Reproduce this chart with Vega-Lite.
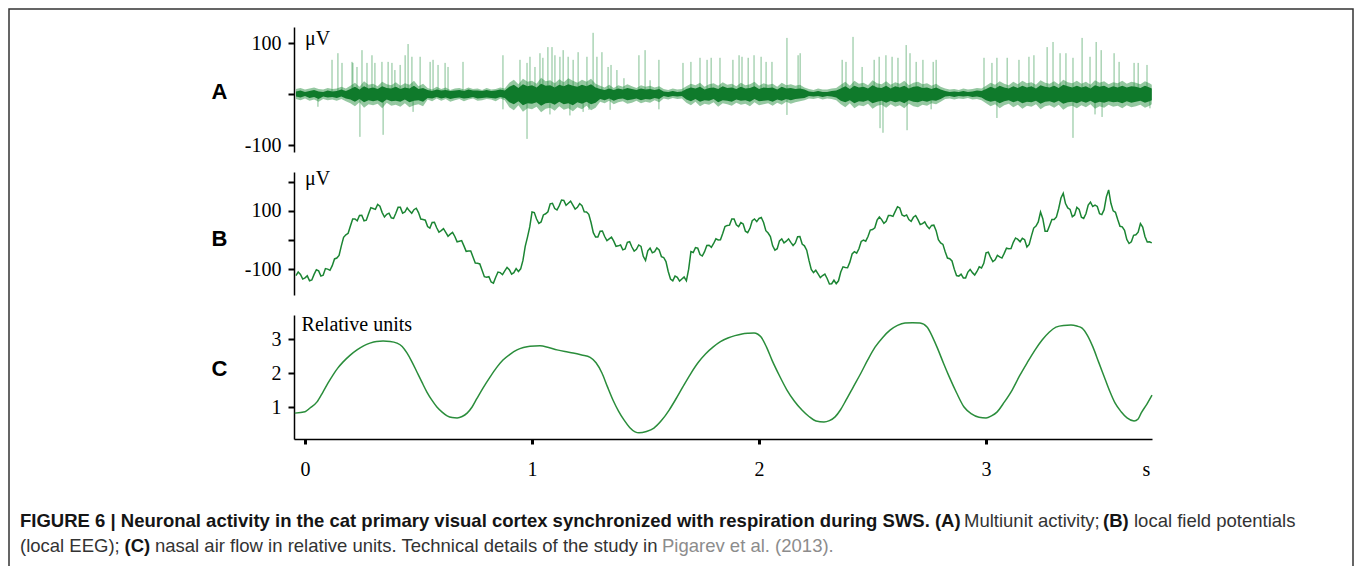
{
  "$schema": "https://vega.github.io/schema/vega-lite/v6.json",
  "width": 1344,
  "height": 557,
  "padding": {"left": 9, "top": 9, "right": 2, "bottom": 0},
  "autosize": {"type": "none"},
  "background": "white",
  "config": {
    "view": {"stroke": "#333333", "strokeWidth": 1.5, "strokeDash": [1901, 1344, 557]},
    "axis": {"domainColor": "#000000", "tickColor": "#000000", "labelColor": "#000000", "titleColor": "#000000", "grid": false, "labelFont": "Liberation Serif", "labelFontSize": 20, "domainWidth": 1.5, "labelFlush": false}
  },
  "datasets": {
    "trace": [
      {"t":-0.04,"lo":-5,"hi":5,"olo":-10,"ohi":10},{"t":-0.02,"lo":-7,"hi":7,"olo":-12,"ohi":12},{"t":0,"lo":-4,"hi":4,"olo":-9,"ohi":9},{"t":0.02,"lo":-8,"hi":6,"olo":-13,"ohi":11},{"t":0.04,"lo":-6,"hi":8,"olo":-11,"ohi":13},{"t":0.06,"lo":-10,"hi":5,"olo":-15,"ohi":10},{"t":0.08,"lo":-5,"hi":4,"olo":-10,"ohi":9},{"t":0.10,"lo":-7,"hi":7,"olo":-12,"ohi":12},{"t":0.12,"lo":-6,"hi":5,"olo":-11,"ohi":10},{"t":0.14,"lo":-8,"hi":6,"olo":-13,"ohi":11},{"t":0.16,"lo":-5,"hi":9,"olo":-10,"ohi":14},{"t":0.18,"lo":-9,"hi":6,"olo":-14,"ohi":11},
      {"t":0.20,"lo":-11,"hi":10,"olo":-18,"ohi":16},{"t":0.22,"lo":-15,"hi":14,"olo":-24,"ohi":22},{"t":0.24,"lo":-10,"hi":9,"olo":-16,"ohi":14},{"t":0.26,"lo":-16,"hi":15,"olo":-27,"ohi":25},{"t":0.28,"lo":-12,"hi":11,"olo":-20,"ohi":18},{"t":0.30,"lo":-14,"hi":13,"olo":-22,"ohi":20},{"t":0.32,"lo":-12,"hi":10,"olo":-19,"ohi":15},{"t":0.34,"lo":-17,"hi":15,"olo":-28,"ohi":24},{"t":0.36,"lo":-11,"hi":12,"olo":-17,"ohi":19},{"t":0.38,"lo":-14,"hi":11,"olo":-23,"ohi":17},{"t":0.40,"lo":-13,"hi":14,"olo":-21,"ohi":23},{"t":0.42,"lo":-15,"hi":10,"olo":-25,"ohi":16},{"t":0.44,"lo":-11,"hi":13,"olo":-18,"ohi":21},{"t":0.46,"lo":-16,"hi":11,"olo":-26,"ohi":18},{"t":0.48,"lo":-13,"hi":16,"olo":-22,"ohi":26},{"t":0.50,"lo":-12,"hi":10,"olo":-20,"ohi":15},{"t":0.52,"lo":-15,"hi":12,"olo":-24,"ohi":20},
      {"t":0.54,"lo":-8,"hi":8,"olo":-11,"ohi":12},{"t":0.56,"lo":-9,"hi":6,"olo":-14,"ohi":9},{"t":0.58,"lo":-6,"hi":9,"olo":-9,"ohi":14},{"t":0.60,"lo":-9,"hi":7,"olo":-13,"ohi":10},{"t":0.62,"lo":-7,"hi":8,"olo":-10,"ohi":13},{"t":0.64,"lo":-10,"hi":6,"olo":-15,"ohi":8},{"t":0.66,"lo":-8,"hi":7,"olo":-12,"ohi":11},{"t":0.68,"lo":-7,"hi":8,"olo":-10,"ohi":12},{"t":0.70,"lo":-9,"hi":6,"olo":-14,"ohi":9},{"t":0.72,"lo":-8,"hi":9,"olo":-11,"ohi":13},{"t":0.74,"lo":-6,"hi":7,"olo":-9,"ohi":10},{"t":0.76,"lo":-9,"hi":7,"olo":-13,"ohi":11},{"t":0.78,"lo":-8,"hi":6,"olo":-12,"ohi":8},{"t":0.80,"lo":-7,"hi":8,"olo":-10,"ohi":12},{"t":0.82,"lo":-8,"hi":6,"olo":-11,"ohi":9},{"t":0.84,"lo":-9,"hi":7,"olo":-14,"ohi":10},{"t":0.86,"lo":-6,"hi":9,"olo":-9,"ohi":13},{"t":0.88,"lo":-8,"hi":7,"olo":-12,"ohi":11},
      {"t":0.90,"lo":-16,"hi":14,"olo":-26,"ohi":22},{"t":0.92,"lo":-20,"hi":18,"olo":-32,"ohi":28},{"t":0.94,"lo":-14,"hi":12,"olo":-22,"ohi":19},{"t":0.96,"lo":-22,"hi":19,"olo":-35,"ohi":30},{"t":0.98,"lo":-18,"hi":15,"olo":-28,"ohi":24},{"t":1.00,"lo":-19,"hi":17,"olo":-30,"ohi":26},{"t":1.02,"lo":-16,"hi":13,"olo":-25,"ohi":20},{"t":1.04,"lo":-23,"hi":20,"olo":-36,"ohi":32},{"t":1.06,"lo":-18,"hi":16,"olo":-29,"ohi":25},{"t":1.08,"lo":-17,"hi":17,"olo":-27,"ohi":27},{"t":1.10,"lo":-21,"hi":13,"olo":-33,"ohi":21},{"t":1.12,"lo":-15,"hi":18,"olo":-24,"ohi":29},{"t":1.14,"lo":-20,"hi":15,"olo":-31,"ohi":23},{"t":1.16,"lo":-18,"hi":19,"olo":-28,"ohi":31},{"t":1.18,"lo":-22,"hi":16,"olo":-34,"ohi":26},{"t":1.20,"lo":-16,"hi":14,"olo":-26,"ohi":22},{"t":1.22,"lo":-19,"hi":18,"olo":-30,"ohi":28},{"t":1.24,"lo":-15,"hi":15,"olo":-23,"ohi":24},{"t":1.26,"lo":-20,"hi":19,"olo":-32,"ohi":30},{"t":1.28,"lo":-17,"hi":13,"olo":-27,"ohi":20},
      {"t":1.30,"lo":-10,"hi":10,"olo":-15,"ohi":16},{"t":1.32,"lo":-12,"hi":8,"olo":-18,"ohi":13},{"t":1.34,"lo":-9,"hi":11,"olo":-13,"ohi":18},{"t":1.36,"lo":-13,"hi":8,"olo":-20,"ohi":12},{"t":1.38,"lo":-10,"hi":11,"olo":-16,"ohi":17},{"t":1.40,"lo":-9,"hi":9,"olo":-14,"ohi":14},{"t":1.42,"lo":-12,"hi":12,"olo":-19,"ohi":19},{"t":1.44,"lo":-11,"hi":10,"olo":-17,"ohi":15},{"t":1.46,"lo":-9,"hi":8,"olo":-13,"ohi":12},{"t":1.48,"lo":-12,"hi":11,"olo":-18,"ohi":17},{"t":1.50,"lo":-10,"hi":9,"olo":-15,"ohi":14},{"t":1.52,"lo":-11,"hi":10,"olo":-17,"ohi":16},{"t":1.54,"lo":-8,"hi":8,"olo":-12,"ohi":13},{"t":1.56,"lo":-10,"hi":10,"olo":-16,"ohi":15},
      {"t":1.58,"lo":-4,"hi":5,"olo":-9,"ohi":10},{"t":1.60,"lo":-6,"hi":4,"olo":-11,"ohi":8},{"t":1.62,"lo":-4,"hi":6,"olo":-8,"ohi":11},{"t":1.64,"lo":-5,"hi":4,"olo":-10,"ohi":9},{"t":1.66,"lo":-4,"hi":5,"olo":-9,"ohi":10},
      {"t":1.68,"lo":-11,"hi":10,"olo":-17,"ohi":15},{"t":1.70,"lo":-14,"hi":13,"olo":-22,"ohi":20},{"t":1.72,"lo":-10,"hi":11,"olo":-15,"ohi":17},{"t":1.74,"lo":-15,"hi":14,"olo":-24,"ohi":22},{"t":1.76,"lo":-12,"hi":9,"olo":-19,"ohi":14},{"t":1.78,"lo":-13,"hi":12,"olo":-21,"ohi":19},{"t":1.80,"lo":-10,"hi":13,"olo":-16,"ohi":21},{"t":1.82,"lo":-16,"hi":10,"olo":-25,"ohi":16},{"t":1.84,"lo":-12,"hi":15,"olo":-18,"ohi":23},{"t":1.86,"lo":-13,"hi":12,"olo":-20,"ohi":18},{"t":1.88,"lo":-15,"hi":13,"olo":-23,"ohi":20},{"t":1.90,"lo":-11,"hi":10,"olo":-17,"ohi":15},{"t":1.92,"lo":-13,"hi":14,"olo":-21,"ohi":22},{"t":1.94,"lo":-12,"hi":11,"olo":-19,"ohi":17},{"t":1.96,"lo":-15,"hi":12,"olo":-24,"ohi":19},{"t":1.98,"lo":-10,"hi":15,"olo":-16,"ohi":24},{"t":2.00,"lo":-14,"hi":10,"olo":-22,"ohi":16},{"t":2.02,"lo":-13,"hi":13,"olo":-20,"ohi":21},{"t":2.04,"lo":-12,"hi":12,"olo":-18,"ohi":18},{"t":2.06,"lo":-15,"hi":13,"olo":-23,"ohi":20},{"t":2.08,"lo":-11,"hi":9,"olo":-17,"ohi":14},{"t":2.10,"lo":-13,"hi":14,"olo":-21,"ohi":22},{"t":2.12,"lo":-10,"hi":11,"olo":-15,"ohi":17},{"t":2.14,"lo":-12,"hi":12,"olo":-19,"ohi":19},{"t":2.16,"lo":-10,"hi":10,"olo":-16,"ohi":16},{"t":2.18,"lo":-9,"hi":11,"olo":-14,"ohi":18},{"t":2.20,"lo":-8,"hi":9,"olo":-12,"ohi":13},
      {"t":2.22,"lo":-4,"hi":5,"olo":-9,"ohi":10},{"t":2.24,"lo":-5,"hi":4,"olo":-10,"ohi":8},{"t":2.26,"lo":-4,"hi":6,"olo":-8,"ohi":11},{"t":2.28,"lo":-6,"hi":4,"olo":-11,"ohi":9},{"t":2.30,"lo":-4,"hi":4,"olo":-9,"ohi":9},{"t":2.32,"lo":-5,"hi":6,"olo":-10,"ohi":11},{"t":2.34,"lo":-7,"hi":7,"olo":-12,"ohi":12},
      {"t":2.36,"lo":-13,"hi":11,"olo":-20,"ohi":18},{"t":2.38,"lo":-16,"hi":15,"olo":-26,"ohi":24},{"t":2.40,"lo":-12,"hi":10,"olo":-18,"ohi":16},{"t":2.42,"lo":-18,"hi":16,"olo":-28,"ohi":26},{"t":2.44,"lo":-14,"hi":13,"olo":-22,"ohi":20},{"t":2.46,"lo":-15,"hi":14,"olo":-24,"ohi":22},{"t":2.48,"lo":-12,"hi":11,"olo":-19,"ohi":17},{"t":2.50,"lo":-18,"hi":17,"olo":-29,"ohi":27},{"t":2.52,"lo":-15,"hi":13,"olo":-23,"ohi":21},{"t":2.54,"lo":-13,"hi":12,"olo":-21,"ohi":19},{"t":2.56,"lo":-17,"hi":16,"olo":-27,"ohi":25},{"t":2.58,"lo":-13,"hi":11,"olo":-20,"ohi":18},{"t":2.60,"lo":-16,"hi":15,"olo":-25,"ohi":23},{"t":2.62,"lo":-14,"hi":13,"olo":-22,"ohi":20},{"t":2.64,"lo":-18,"hi":16,"olo":-28,"ohi":26},{"t":2.66,"lo":-12,"hi":11,"olo":-19,"ohi":17},{"t":2.68,"lo":-15,"hi":14,"olo":-24,"ohi":22},{"t":2.70,"lo":-16,"hi":15,"olo":-26,"ohi":24},{"t":2.72,"lo":-13,"hi":12,"olo":-21,"ohi":19},{"t":2.74,"lo":-15,"hi":13,"olo":-23,"ohi":21},{"t":2.76,"lo":-12,"hi":10,"olo":-18,"ohi":16},{"t":2.78,"lo":-13,"hi":13,"olo":-20,"ohi":20},{"t":2.80,"lo":-10,"hi":9,"olo":-15,"ohi":14},
      {"t":2.82,"lo":-5,"hi":6,"olo":-10,"ohi":11},{"t":2.84,"lo":-4,"hi":4,"olo":-9,"ohi":9},{"t":2.86,"lo":-6,"hi":5,"olo":-11,"ohi":10},{"t":2.88,"lo":-4,"hi":4,"olo":-9,"ohi":8},{"t":2.90,"lo":-5,"hi":6,"olo":-10,"ohi":11},{"t":2.92,"lo":-4,"hi":4,"olo":-8,"ohi":9},{"t":2.94,"lo":-6,"hi":5,"olo":-11,"ohi":10},{"t":2.96,"lo":-5,"hi":7,"olo":-10,"ohi":12},{"t":2.98,"lo":-7,"hi":6,"olo":-12,"ohi":11},
      {"t":3.00,"lo":-12,"hi":10,"olo":-18,"ohi":16},{"t":3.02,"lo":-15,"hi":14,"olo":-24,"ohi":22},{"t":3.04,"lo":-13,"hi":11,"olo":-20,"ohi":18},{"t":3.06,"lo":-18,"hi":16,"olo":-28,"ohi":25},{"t":3.08,"lo":-14,"hi":13,"olo":-22,"ohi":20},{"t":3.10,"lo":-12,"hi":11,"olo":-19,"ohi":17},{"t":3.12,"lo":-16,"hi":15,"olo":-26,"ohi":24},{"t":3.14,"lo":-13,"hi":12,"olo":-21,"ohi":19},{"t":3.16,"lo":-18,"hi":16,"olo":-29,"ohi":26},{"t":3.18,"lo":-15,"hi":13,"olo":-23,"ohi":21},{"t":3.20,"lo":-16,"hi":15,"olo":-25,"ohi":23},{"t":3.22,"lo":-13,"hi":11,"olo":-20,"ohi":18},{"t":3.24,"lo":-19,"hi":17,"olo":-30,"ohi":27},{"t":3.26,"lo":-15,"hi":14,"olo":-24,"ohi":22},{"t":3.28,"lo":-14,"hi":13,"olo":-22,"ohi":20},{"t":3.30,"lo":-17,"hi":16,"olo":-27,"ohi":25},{"t":3.32,"lo":-13,"hi":12,"olo":-21,"ohi":19},{"t":3.34,"lo":-19,"hi":18,"olo":-31,"ohi":28},{"t":3.36,"lo":-16,"hi":15,"olo":-25,"ohi":23},{"t":3.38,"lo":-15,"hi":13,"olo":-23,"ohi":21},{"t":3.40,"lo":-18,"hi":16,"olo":-28,"ohi":26},{"t":3.42,"lo":-14,"hi":13,"olo":-22,"ohi":20},{"t":3.44,"lo":-17,"hi":15,"olo":-26,"ohi":24},{"t":3.46,"lo":-13,"hi":11,"olo":-20,"ohi":18},{"t":3.48,"lo":-18,"hi":17,"olo":-29,"ohi":27},{"t":3.50,"lo":-15,"hi":14,"olo":-24,"ohi":22},{"t":3.52,"lo":-17,"hi":16,"olo":-27,"ohi":25},{"t":3.54,"lo":-14,"hi":12,"olo":-21,"ohi":19},{"t":3.56,"lo":-16,"hi":15,"olo":-25,"ohi":23},{"t":3.58,"lo":-15,"hi":13,"olo":-23,"ohi":21},{"t":3.60,"lo":-18,"hi":16,"olo":-28,"ohi":26},{"t":3.62,"lo":-14,"hi":13,"olo":-22,"ohi":20},{"t":3.64,"lo":-17,"hi":15,"olo":-26,"ohi":24},{"t":3.66,"lo":-15,"hi":14,"olo":-24,"ohi":22},{"t":3.68,"lo":-13,"hi":12,"olo":-21,"ohi":19},{"t":3.70,"lo":-17,"hi":16,"olo":-27,"ohi":25},{"t":3.72,"lo":-14,"hi":13,"olo":-23,"ohi":21},{"t":3.73,"lo":-12,"hi":11,"olo":-20,"ohi":18}
    ],
    "lfp": [
      {"t":-0.04,"b":-122},{"t":-0.03,"b":-110},{"t":-0.02,"b":-118},{"t":-0.01,"b":-134},{"t":0,"b":-130},{"t":0.01,"b":-123},{"t":0.02,"b":-140},{"t":0.03,"b":-137},{"t":0.04,"b":-118},{"t":0.05,"b":-102},{"t":0.06,"b":-106},{"t":0.07,"b":-124},{"t":0.08,"b":-121},{"t":0.09,"b":-98},{"t":0.10,"b":-100},{"t":0.11,"b":-104},{"t":0.12,"b":-88},{"t":0.13,"b":-65},{"t":0.14,"b":-62},{"t":0.15,"b":-53},{"t":0.16,"b":-20},{"t":0.17,"b":9},{"t":0.18,"b":18},{"t":0.19,"b":23},
      {"t":0.20,"b":48},{"t":0.21,"b":72},{"t":0.22,"b":72},{"t":0.23,"b":66},{"t":0.24,"b":84},{"t":0.25,"b":85},{"t":0.26,"b":66},{"t":0.27,"b":68},{"t":0.28,"b":90},{"t":0.29,"b":111},{"t":0.30,"b":108},{"t":0.31,"b":105},{"t":0.32,"b":122},{"t":0.33,"b":116},{"t":0.34,"b":94},{"t":0.35,"b":79},{"t":0.36,"b":88},{"t":0.37,"b":92},{"t":0.38,"b":76},{"t":0.39,"b":74},
      {"t":0.40,"b":92},{"t":0.41,"b":112},{"t":0.42,"b":112},{"t":0.43,"b":92},{"t":0.44,"b":96},{"t":0.45,"b":110},{"t":0.46,"b":100},{"t":0.47,"b":92},{"t":0.48,"b":104},{"t":0.49,"b":109},{"t":0.50,"b":94},{"t":0.51,"b":72},{"t":0.52,"b":70},{"t":0.53,"b":68},{"t":0.54,"b":46},{"t":0.55,"b":41},{"t":0.56,"b":60},{"t":0.57,"b":61},{"t":0.58,"b":42},{"t":0.59,"b":27},
      {"t":0.60,"b":32},{"t":0.61,"b":39},{"t":0.62,"b":26},{"t":0.63,"b":13},{"t":0.64,"b":20},{"t":0.65,"b":26},{"t":0.66,"b":12},{"t":0.67,"b":-6},{"t":0.68,"b":-4},{"t":0.69,"b":-2},{"t":0.70,"b":-20},{"t":0.71,"b":-39},{"t":0.72,"b":-38},{"t":0.73,"b":-38},{"t":0.74,"b":-58},{"t":0.75,"b":-79},{"t":0.76,"b":-80},{"t":0.77,"b":-82},{"t":0.78,"b":-104},{"t":0.79,"b":-126},
      {"t":0.80,"b":-128},{"t":0.81,"b":-126},{"t":0.82,"b":-144},{"t":0.83,"b":-148},{"t":0.84,"b":-128},{"t":0.85,"b":-110},{"t":0.86,"b":-112},{"t":0.87,"b":-119},{"t":0.88,"b":-106},{"t":0.89,"b":-94},{"t":0.90,"b":-102},{"t":0.91,"b":-117},{"t":0.92,"b":-112},{"t":0.93,"b":-98},{"t":0.94,"b":-108},{"t":0.95,"b":-99},{"t":0.96,"b":-70},{"t":0.97,"b":-22},{"t":0.98,"b":10},{"t":0.99,"b":45},
      {"t":1.00,"b":96},{"t":1.01,"b":94},{"t":1.02,"b":72},{"t":1.03,"b":57},{"t":1.04,"b":62},{"t":1.05,"b":86},{"t":1.06,"b":90},{"t":1.07,"b":97},{"t":1.08,"b":124},{"t":1.09,"b":126},{"t":1.10,"b":108},{"t":1.11,"b":103},{"t":1.12,"b":118},{"t":1.13,"b":137},{"t":1.14,"b":136},{"t":1.15,"b":119},{"t":1.16,"b":126},{"t":1.17,"b":133},{"t":1.18,"b":120},{"t":1.19,"b":106},
      {"t":1.20,"b":112},{"t":1.21,"b":125},{"t":1.22,"b":118},{"t":1.23,"b":97},{"t":1.24,"b":96},{"t":1.25,"b":88},{"t":1.26,"b":60},{"t":1.27,"b":25},{"t":1.28,"b":10},{"t":1.29,"b":10},{"t":1.30,"b":30},{"t":1.31,"b":31},{"t":1.32,"b":12},{"t":1.33,"b":-2},{"t":1.34,"b":4},{"t":1.35,"b":10},{"t":1.36,"b":-4},{"t":1.37,"b":-22},{"t":1.38,"b":-20},{"t":1.39,"b":-17},
      {"t":1.40,"b":-34},{"t":1.41,"b":-31},{"t":1.42,"b":-8},{"t":1.43,"b":-6},{"t":1.44,"b":-24},{"t":1.45,"b":-38},{"t":1.46,"b":-32},{"t":1.47,"b":-17},{"t":1.48,"b":-22},{"t":1.49,"b":-56},{"t":1.50,"b":-70},{"t":1.51,"b":-37},{"t":1.52,"b":-28},{"t":1.53,"b":-44},{"t":1.54,"b":-40},{"t":1.55,"b":-27},{"t":1.56,"b":-34},{"t":1.57,"b":-57},{"t":1.58,"b":-60},{"t":1.59,"b":-74},
      {"t":1.60,"b":-108},{"t":1.61,"b":-134},{"t":1.62,"b":-140},{"t":1.63,"b":-124},{"t":1.64,"b":-128},{"t":1.65,"b":-141},{"t":1.66,"b":-134},{"t":1.67,"b":-127},{"t":1.68,"b":-140},{"t":1.69,"b":-100},{"t":1.70,"b":-40},{"t":1.71,"b":-43},{"t":1.72,"b":-26},{"t":1.73,"b":-28},{"t":1.74,"b":-50},{"t":1.75,"b":-55},{"t":1.76,"b":-40},{"t":1.77,"b":-19},{"t":1.78,"b":-18},{"t":1.79,"b":-25},
      {"t":1.80,"b":-12},{"t":1.81,"b":4},{"t":1.82,"b":0},{"t":1.83,"b":1},{"t":1.84,"b":22},{"t":1.85,"b":46},{"t":1.86,"b":50},{"t":1.87,"b":51},{"t":1.88,"b":72},{"t":1.89,"b":72},{"t":1.90,"b":52},{"t":1.91,"b":46},{"t":1.92,"b":60},{"t":1.93,"b":55},{"t":1.94,"b":30},{"t":1.95,"b":25},{"t":1.96,"b":40},{"t":1.97,"b":66},{"t":1.98,"b":72},{"t":1.99,"b":63},
      {"t":2.00,"b":74},{"t":2.01,"b":77},{"t":2.02,"b":60},{"t":2.03,"b":32},{"t":2.04,"b":24},{"t":2.05,"b":12},{"t":2.06,"b":-20},{"t":2.07,"b":-35},{"t":2.08,"b":-30},{"t":2.09,"b":-3},{"t":2.10,"b":4},{"t":2.11,"b":-10},{"t":2.12,"b":-4},{"t":2.13,"b":4},{"t":2.14,"b":-8},{"t":2.15,"b":-19},{"t":2.16,"b":-10},{"t":2.17,"b":11},{"t":2.18,"b":12},{"t":2.19,"b":-14},
      {"t":2.20,"b":-20},{"t":2.21,"b":-35},{"t":2.22,"b":-70},{"t":2.23,"b":-101},{"t":2.24,"b":-112},{"t":2.25,"b":-104},{"t":2.26,"b":-116},{"t":2.27,"b":-129},{"t":2.28,"b":-122},{"t":2.29,"b":-117},{"t":2.30,"b":-132},{"t":2.31,"b":-151},{"t":2.32,"b":-150},{"t":2.33,"b":-138},{"t":2.34,"b":-150},{"t":2.35,"b":-140},{"t":2.36,"b":-110},{"t":2.37,"b":-92},{"t":2.38,"b":-94},{"t":2.39,"b":-95},
      {"t":2.40,"b":-76},{"t":2.41,"b":-48},{"t":2.42,"b":-40},{"t":2.43,"b":-45},{"t":2.44,"b":-30},{"t":2.45,"b":-5},{"t":2.46,"b":0},{"t":2.47,"b":-4},{"t":2.48,"b":12},{"t":2.49,"b":34},{"t":2.50,"b":36},{"t":2.51,"b":42},{"t":2.52,"b":68},{"t":2.53,"b":79},{"t":2.54,"b":70},{"t":2.55,"b":57},{"t":2.56,"b":64},{"t":2.57,"b":84},{"t":2.58,"b":84},{"t":2.59,"b":81},
      {"t":2.60,"b":98},{"t":2.61,"b":114},{"t":2.62,"b":110},{"t":2.63,"b":86},{"t":2.64,"b":82},{"t":2.65,"b":86},{"t":2.66,"b":70},{"t":2.67,"b":64},{"t":2.68,"b":78},{"t":2.69,"b":84},{"t":2.70,"b":70},{"t":2.71,"b":53},{"t":2.72,"b":56},{"t":2.73,"b":62},{"t":2.74,"b":48},{"t":2.75,"b":39},{"t":2.76,"b":50},{"t":2.77,"b":51},{"t":2.78,"b":32},{"t":2.79,"b":1},
      {"t":2.80,"b":-10},{"t":2.81,"b":-15},{"t":2.82,"b":-40},{"t":2.83,"b":-62},{"t":2.84,"b":-64},{"t":2.85,"b":-72},{"t":2.86,"b":-100},{"t":2.87,"b":-122},{"t":2.88,"b":-124},{"t":2.89,"b":-117},{"t":2.90,"b":-130},{"t":2.91,"b":-130},{"t":2.92,"b":-110},{"t":2.93,"b":-101},{"t":2.94,"b":-112},{"t":2.95,"b":-120},{"t":2.96,"b":-108},{"t":2.97,"b":-92},{"t":2.98,"b":-96},{"t":2.99,"b":-80},
      {"t":3.00,"b":-44},{"t":3.01,"b":-42},{"t":3.02,"b":-60},{"t":3.03,"b":-74},{"t":3.04,"b":-68},{"t":3.05,"b":-53},{"t":3.06,"b":-58},{"t":3.07,"b":-62},{"t":3.08,"b":-46},{"t":3.09,"b":-28},{"t":3.10,"b":-30},{"t":3.11,"b":-29},{"t":3.12,"b":-8},{"t":3.13,"b":7},{"t":3.14,"b":2},{"t":3.15,"b":-6},{"t":3.16,"b":6},{"t":3.17,"b":1},{"t":3.18,"b":-24},{"t":3.19,"b":-15},
      {"t":3.20,"b":14},{"t":3.21,"b":41},{"t":3.22,"b":48},{"t":3.23,"b":62},{"t":3.24,"b":96},{"t":3.25,"b":73},{"t":3.26,"b":30},{"t":3.27,"b":30},{"t":3.28,"b":50},{"t":3.29,"b":70},{"t":3.30,"b":70},{"t":3.31,"b":79},{"t":3.32,"b":108},{"t":3.33,"b":144},{"t":3.34,"b":160},{"t":3.35,"b":125},{"t":3.36,"b":110},{"t":3.37,"b":105},{"t":3.38,"b":80},{"t":3.39,"b":86},
      {"t":3.40,"b":112},{"t":3.41,"b":105},{"t":3.42,"b":78},{"t":3.43,"b":74},{"t":3.44,"b":90},{"t":3.45,"b":120},{"t":3.46,"b":130},{"t":3.47,"b":115},{"t":3.48,"b":120},{"t":3.49,"b":115},{"t":3.50,"b":90},{"t":3.51,"b":87},{"t":3.52,"b":104},{"t":3.53,"b":148},{"t":3.54,"b":172},{"t":3.55,"b":126},{"t":3.56,"b":100},{"t":3.57,"b":95},{"t":3.58,"b":70},{"t":3.59,"b":47},
      {"t":3.60,"b":45},{"t":3.61,"b":33},{"t":3.62,"b":2},{"t":3.63,"b":-12},{"t":3.64,"b":-6},{"t":3.65,"b":16},{"t":3.66,"b":18},{"t":3.67,"b":27},{"t":3.68,"b":56},{"t":3.69,"b":44},{"t":3.70,"b":12},{"t":3.71,"b":-7},{"t":3.72,"b":-6},{"t":3.73,"b":-10}
    ],
    "spikes": [
      {"t":0.119,"s":67},{"t":0.145,"s":80},{"t":0.163,"s":61},{"t":0.207,"s":63},{"t":0.211,"s":61},{"t":0.229,"s":53},{"t":0.251,"s":86},{"t":0.273,"s":61},{"t":0.295,"s":76},{"t":0.308,"s":61},{"t":0.339,"s":63},{"t":0.366,"s":63},{"t":0.383,"s":61},{"t":0.396,"s":47},{"t":0.419,"s":57},{"t":0.441,"s":76},{"t":0.454,"s":98},{"t":0.471,"s":73},{"t":0.507,"s":73},{"t":0.551,"s":63},{"t":0.564,"s":67},{"t":0.586,"s":57},{"t":0.617,"s":61},{"t":0.630,"s":53},{"t":0.696,"s":63},{"t":0.872,"s":76},{"t":0.947,"s":67},{"t":0.978,"s":61},{"t":0.991,"s":73},{"t":1.013,"s":53},{"t":1.035,"s":80},{"t":1.048,"s":71},{"t":1.070,"s":92},{"t":1.088,"s":92},{"t":1.101,"s":76},{"t":1.123,"s":73},{"t":1.137,"s":86},{"t":1.159,"s":73},{"t":1.181,"s":67},{"t":1.203,"s":82},{"t":1.242,"s":73},{"t":1.269,"s":120},{"t":1.286,"s":73},{"t":1.308,"s":82},{"t":1.335,"s":53},{"t":1.348,"s":57},{"t":1.374,"s":47},{"t":1.405,"s":31},{"t":1.471,"s":76},{"t":1.498,"s":86},{"t":1.520,"s":27},{"t":1.559,"s":67},{"t":1.665,"s":61},{"t":1.700,"s":63},{"t":1.740,"s":71},{"t":1.771,"s":67},{"t":1.789,"s":71},{"t":1.828,"s":71},{"t":1.885,"s":67},{"t":1.912,"s":76},{"t":1.925,"s":73},{"t":1.952,"s":71},{"t":1.978,"s":76},{"t":2.009,"s":73},{"t":2.031,"s":63},{"t":2.057,"s":63},{"t":2.123,"s":110},{"t":2.172,"s":76},{"t":2.181,"s":80},{"t":2.366,"s":67},{"t":2.383,"s":63},{"t":2.414,"s":112},{"t":2.454,"s":53},{"t":2.507,"s":67},{"t":2.529,"s":73},{"t":2.559,"s":76},{"t":2.586,"s":73},{"t":2.612,"s":71},{"t":2.648,"s":96},{"t":2.665,"s":80},{"t":2.692,"s":63},{"t":2.722,"s":67},{"t":2.767,"s":63},{"t":2.780,"s":67},{"t":2.991,"s":71},{"t":3.026,"s":61},{"t":3.048,"s":71},{"t":3.093,"s":71},{"t":3.145,"s":67},{"t":3.189,"s":73},{"t":3.211,"s":76},{"t":3.269,"s":92},{"t":3.295,"s":102},{"t":3.326,"s":80},{"t":3.352,"s":80},{"t":3.383,"s":71},{"t":3.423,"s":110},{"t":3.458,"s":73},{"t":3.485,"s":102},{"t":3.507,"s":86},{"t":3.564,"s":80},{"t":3.586,"s":63},{"t":3.652,"s":61},{"t":3.670,"s":61},{"t":3.709,"s":57},
      {"t":0.057,"s":-25},{"t":0.242,"s":-84},{"t":0.344,"s":-80},{"t":0.476,"s":-35},{"t":0.872,"s":-30},{"t":0.978,"s":-88},{"t":1.079,"s":-40},{"t":1.167,"s":-42},{"t":1.225,"s":-35},{"t":1.251,"s":-31},{"t":1.344,"s":-31},{"t":1.559,"s":-30},{"t":2.123,"s":-41},{"t":2.533,"s":-67},{"t":2.546,"s":-76},{"t":2.652,"s":-71},{"t":2.758,"s":-30},{"t":3.048,"s":-47},{"t":3.383,"s":-86},{"t":3.480,"s":-40},{"t":3.511,"s":-45},{"t":3.722,"s":-28}
    ],
    "resp": [
      {"t":-0.045,"c":0.82},{"t":0.0,"c":0.86},{"t":0.022,"c":0.97},{"t":0.053,"c":1.15},{"t":0.079,"c":1.44},{"t":0.101,"c":1.70},{"t":0.123,"c":1.94},{"t":0.145,"c":2.15},{"t":0.167,"c":2.32},{"t":0.198,"c":2.52},{"t":0.229,"c":2.68},{"t":0.258,"c":2.80},{"t":0.286,"c":2.88},{"t":0.315,"c":2.93},{"t":0.344,"c":2.94},{"t":0.375,"c":2.93},{"t":0.405,"c":2.88},{"t":0.428,"c":2.78},{"t":0.449,"c":2.59},{"t":0.471,"c":2.33},{"t":0.493,"c":2.03},{"t":0.515,"c":1.73},{"t":0.537,"c":1.44},{"t":0.559,"c":1.20},{"t":0.581,"c":1.00},{"t":0.604,"c":0.85},{"t":0.626,"c":0.74},{"t":0.648,"c":0.69},{"t":0.670,"c":0.68},{"t":0.692,"c":0.72},{"t":0.714,"c":0.82},{"t":0.736,"c":1.00},{"t":0.758,"c":1.26},{"t":0.786,"c":1.58},{"t":0.815,"c":1.88},{"t":0.843,"c":2.15},{"t":0.872,"c":2.38},{"t":0.903,"c":2.55},{"t":0.934,"c":2.68},{"t":0.962,"c":2.75},{"t":0.991,"c":2.79},{"t":1.035,"c":2.80},{"t":1.073,"c":2.75},{"t":1.110,"c":2.68},{"t":1.145,"c":2.63},{"t":1.181,"c":2.59},{"t":1.219,"c":2.53},{"t":1.256,"c":2.46},{"t":1.282,"c":2.30},{"t":1.308,"c":2.00},{"t":1.332,"c":1.60},{"t":1.357,"c":1.20},{"t":1.381,"c":0.88},{"t":1.405,"c":0.62},{"t":1.430,"c":0.40},{"t":1.454,"c":0.27},{"t":1.471,"c":0.24},{"t":1.504,"c":0.28},{"t":1.537,"c":0.38},{"t":1.570,"c":0.60},{"t":1.604,"c":0.91},{"t":1.635,"c":1.25},{"t":1.665,"c":1.60},{"t":1.698,"c":1.97},{"t":1.731,"c":2.30},{"t":1.764,"c":2.56},{"t":1.797,"c":2.76},{"t":1.830,"c":2.92},{"t":1.863,"c":3.03},{"t":1.894,"c":3.10},{"t":1.925,"c":3.15},{"t":1.952,"c":3.17},{"t":1.978,"c":3.18},{"t":1.995,"c":3.14},{"t":2.009,"c":3.06},{"t":2.033,"c":2.76},{"t":2.057,"c":2.38},{"t":2.090,"c":1.92},{"t":2.123,"c":1.50},{"t":2.156,"c":1.17},{"t":2.189,"c":0.91},{"t":2.220,"c":0.72},{"t":2.251,"c":0.59},{"t":2.286,"c":0.56},{"t":2.310,"c":0.60},{"t":2.335,"c":0.71},{"t":2.359,"c":0.92},{"t":2.383,"c":1.20},{"t":2.416,"c":1.60},{"t":2.449,"c":2.00},{"t":2.480,"c":2.40},{"t":2.511,"c":2.76},{"t":2.544,"c":3.04},{"t":2.577,"c":3.26},{"t":2.610,"c":3.40},{"t":2.643,"c":3.47},{"t":2.676,"c":3.48},{"t":2.709,"c":3.47},{"t":2.740,"c":3.35},{"t":2.765,"c":3.05},{"t":2.789,"c":2.68},{"t":2.813,"c":2.28},{"t":2.837,"c":1.90},{"t":2.870,"c":1.42},{"t":2.903,"c":1.00},{"t":2.936,"c":0.80},{"t":2.969,"c":0.70},{"t":3.000,"c":0.68},{"t":3.024,"c":0.74},{"t":3.048,"c":0.85},{"t":3.081,"c":1.15},{"t":3.115,"c":1.50},{"t":3.148,"c":1.92},{"t":3.181,"c":2.30},{"t":3.214,"c":2.66},{"t":3.247,"c":2.97},{"t":3.278,"c":3.20},{"t":3.308,"c":3.35},{"t":3.341,"c":3.40},{"t":3.374,"c":3.41},{"t":3.400,"c":3.38},{"t":3.423,"c":3.32},{"t":3.447,"c":3.10},{"t":3.471,"c":2.76},{"t":3.496,"c":2.32},{"t":3.520,"c":1.90},{"t":3.544,"c":1.48},{"t":3.568,"c":1.12},{"t":3.595,"c":0.86},{"t":3.621,"c":0.68},{"t":3.652,"c":0.59},{"t":3.670,"c":0.65},{"t":3.683,"c":0.82},{"t":3.708,"c":1.08},{"t":3.731,"c":1.35}
    ],
    "capBold": [
      {"seg":1,"line":1,"text":"FIGURE 6 | Neuronal activity in the cat primary visual cortex synchronized with respiration during SWS. (A)"},
      {"seg":3,"line":1,"text":"(B)"},
      {"seg":6,"line":2,"text":"(C)"}
    ],
    "capPlain": [
      {"seg":2,"line":1,"text":"Multiunit activity;"},
      {"seg":4,"line":1,"text":"local field potentials"},
      {"seg":5,"line":2,"text":"(local EEG);"},
      {"seg":7,"line":2,"text":"nasal air flow in relative units. Technical details of the study in"}
    ],
    "capLink": [
      {"seg":8,"line":2,"text":"Pigarev et al. (2013)."}
    ]
  },
  "layer": [
    {
      "layer": [
        {
          "data": {"name": "trace"},
          "mark": {"type": "area", "color": "#2b9243", "opacity": 0.5},
          "encoding": {
            "x": {"field": "t", "type": "quantitative", "scale": {"domain": [-0.0485, 3.731], "range": [285, 1143], "zero": false, "nice": false}, "axis": null},
            "y": {"field": "ohi", "type": "quantitative", "scale": {"domain": [-113.7, 131.4], "range": [143, 18], "zero": false, "nice": false},
              "axis": {"orient": "left", "offset": -285, "values": [-100, 0, 100], "labelExpr": "datum.value == 100 ? '100' : datum.value == -100 ? '-100' : ''", "tickSize": 6, "tickWidth": 2, "labelPadding": 7, "title": "A", "titleAngle": 0, "titleFont": "Liberation Sans", "titleFontSize": 22, "titleFontWeight": "bold", "titleAlign": "center", "titleBaseline": "alphabetic", "titleX": -75, "titleY": 89}},
            "y2": {"field": "olo"}
          }
        },
        {
          "data": {"name": "spikes"},
          "mark": {"type": "rule", "color": "#1a8a36", "opacity": 0.55, "strokeWidth": 1},
          "encoding": {
            "x": {"field": "t", "type": "quantitative"},
            "y": {"field": "s", "type": "quantitative"},
            "y2": {"datum": 0}
          }
        },
        {
          "data": {"name": "trace"},
          "mark": {"type": "area", "color": "#0f7a2b"},
          "encoding": {
            "x": {"field": "t", "type": "quantitative"},
            "y": {"field": "hi", "type": "quantitative"},
            "y2": {"field": "lo"}
          }
        },
        {
          "data": {"values": [{"unit": "μV"}]},
          "mark": {"type": "text", "align": "left", "baseline": "alphabetic", "font": "Liberation Serif", "fontSize": 20, "color": "#000000"},
          "encoding": {
            "x": {"datum": 0, "type": "quantitative"},
            "y": {"datum": 96, "type": "quantitative"},
            "text": {"field": "unit"}
          }
        }
      ]
    },
    {
      "layer": [
        {
          "data": {"name": "lfp"},
          "mark": {"type": "line", "color": "#1b8533", "strokeWidth": 1.5},
          "encoding": {
            "x": {"field": "t", "type": "quantitative", "scale": {"domain": [-0.0485, 3.731], "range": [285, 1143], "zero": false, "nice": false}, "axis": null},
            "y": {"field": "b", "type": "quantitative", "scale": {"domain": [-188.7, 233.3], "range": [286, 163], "zero": false, "nice": false},
              "axis": {"orient": "left", "offset": -285, "values": [-100, 0, 100, 200], "labelExpr": "datum.value == 100 ? '100' : datum.value == -100 ? '-100' : ''", "tickSize": 6, "tickWidth": 2, "labelPadding": 7, "title": "B", "titleAngle": 0, "titleFont": "Liberation Sans", "titleFontSize": 22, "titleFontWeight": "bold", "titleAlign": "center", "titleBaseline": "alphabetic", "titleX": -75, "titleY": 236}}
          }
        },
        {
          "data": {"values": [{"unit": "μV"}]},
          "mark": {"type": "text", "align": "left", "baseline": "alphabetic", "font": "Liberation Serif", "fontSize": 20, "color": "#000000"},
          "encoding": {
            "x": {"datum": 0, "type": "quantitative"},
            "y": {"datum": 189, "type": "quantitative"},
            "text": {"field": "unit"}
          }
        }
      ]
    },
    {
      "layer": [
        {
          "data": {"name": "resp"},
          "mark": {"type": "line", "color": "#2a8d3b", "strokeWidth": 1.5, "interpolate": "monotone"},
          "encoding": {
            "x": {"field": "t", "type": "quantitative", "scale": {"domain": [-0.0485, 3.731], "range": [285, 1143], "zero": false, "nice": false},
              "axis": {"orient": "bottom", "offset": -127, "values": [0, 1, 2, 3], "format": "d", "tickSize": 5, "tickWidth": 3, "labelPadding": 15, "title": "s", "titleX": 1137, "titleY": 36, "titleAlign": "center", "titleBaseline": "alphabetic", "titleFont": "Liberation Serif", "titleFontSize": 20, "titleFontWeight": "normal"}},
            "y": {"field": "c", "type": "quantitative", "scale": {"domain": [0.059, 3.706], "range": [430, 306], "zero": false, "nice": false},
              "axis": {"orient": "left", "offset": -285, "values": [1, 2, 3], "format": "d", "tickSize": 6, "tickWidth": 2, "labelPadding": 7, "title": "C", "titleAngle": 0, "titleFont": "Liberation Sans", "titleFontSize": 22, "titleFontWeight": "bold", "titleAlign": "center", "titleBaseline": "alphabetic", "titleX": -75, "titleY": 366}}
          }
        },
        {
          "data": {"values": [{"unit": "Relative units"}]},
          "mark": {"type": "text", "align": "left", "baseline": "alphabetic", "font": "Liberation Serif", "fontSize": 20, "color": "#000000"},
          "encoding": {
            "x": {"datum": -0.015, "type": "quantitative"},
            "y": {"datum": 3.235, "type": "quantitative"},
            "text": {"field": "unit"}
          }
        }
      ]
    },
    {
      "layer": [
        {
          "data": {"name": "capBold"},
          "mark": {"type": "text", "align": "left", "baseline": "alphabetic", "font": "Liberation Sans", "fontSize": 18.5, "fontWeight": "bold", "color": "#151515"},
          "encoding": {
            "x": {"field": "seg", "type": "quantitative", "scale": {"domain": [1, 2, 3, 4, 5, 6, 7, 8], "range": [11, 955, 1094, 1125, 11, 115.5, 146, 653], "zero": false, "nice": false}, "axis": null},
            "y": {"field": "line", "type": "quantitative", "scale": {"domain": [1, 2], "range": [518, 543], "zero": false, "nice": false}, "axis": null},
            "text": {"field": "text"}
          }
        },
        {
          "data": {"name": "capPlain"},
          "mark": {"type": "text", "align": "left", "baseline": "alphabetic", "font": "Liberation Sans", "fontSize": 18.5, "color": "#333333"},
          "encoding": {
            "x": {"field": "seg", "type": "quantitative"},
            "y": {"field": "line", "type": "quantitative"},
            "text": {"field": "text"}
          }
        },
        {
          "data": {"name": "capLink"},
          "mark": {"type": "text", "align": "left", "baseline": "alphabetic", "font": "Liberation Sans", "fontSize": 18.5, "color": "#8c8c8c"},
          "encoding": {
            "x": {"field": "seg", "type": "quantitative"},
            "y": {"field": "line", "type": "quantitative"},
            "text": {"field": "text"}
          }
        }
      ]
    }
  ],
  "resolve": {"scale": {"x": "independent", "y": "independent"}}
}
